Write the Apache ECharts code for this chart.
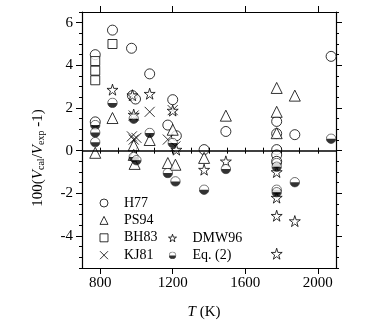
<!DOCTYPE html>
<html>
<head>
<meta charset="utf-8">
<script src="https://cdn.jsdelivr.net/npm/echarts@6/dist/echarts.min.js"></script>
<style>
  html, body { margin: 0; padding: 0; background: #fff; }
  #chart { width: 379px; height: 327px; }
</style>
</head>
<body>
<div id="chart"></div>
<script>
// [T (K), 100(Vcal/Vexp - 1)]
const h77 = [
  [773, 4.5], [868, 5.65], [973, 4.8], [978, 2.58], [995, 2.42], [1073, 3.6],
  [1200, 2.39], [1173, 1.2], [1220, 0.7], [1373, 0.05], [1493, 0.9],
  [1773, 1.37], [1773, 0.8], [1773, 0.05], [1773, -0.2], [1773, -0.5],
  [1873, 0.75], [2073, 4.42], [773, 1.35]
]
const ps94 = [
  [773, -0.1], [868, 1.53], [985, 0.25], [985, -0.2], [990, -0.62], [1073, 0.5],
  [1200, 0.98], [1173, -0.58], [1215, -0.66], [1373, -0.34], [1493, 1.64],
  [1773, 2.94], [1773, 1.82], [1773, 0.82], [1873, 2.58]
]
const bh83 = [[773, 4.2], [773, 3.75], [773, 3.3], [868, 5.0]]
const kj81 = [
  [975, 0.67], [985, 0.52], [1000, 0.6], [1073, 1.82], [1173, 0.52], [1215, 0.2],
  [985, 1.65], [1200, 1.9]
]
const dmw96 = [
  [868, 2.86], [978, 2.6], [985, 1.69], [1073, 2.67], [1200, 1.88], [1220, 0.05],
  [1373, -0.89], [1493, -0.5], [1773, -1.0], [1773, -2.2], [1773, -3.05],
  [1773, -4.83], [1873, -3.3]
]
const eq2 = [
  [773, 1.2], [773, 0.85], [773, 0.4], [868, 2.24], [985, 1.5], [985, -0.3],
  [1000, -0.45], [1073, 0.83], [1200, 0.36], [1173, -1.05], [1215, -1.44],
  [1373, -1.83], [1493, -0.86], [1773, -0.58], [1773, -0.75], [1773, -1.83],
  [1773, -1.95], [1873, -1.48], [2073, 0.56]
]
const xMajor = [800, 1200, 1600, 2000]
const yMajor = [-4, -2, 0, 2, 4, 6]

const font = 'Liberation Serif'
const halfSvg = "<svg xmlns='http://www.w3.org/2000/svg' width='20' height='20' viewBox='0 0 20 20'>" +
  "<circle cx='10' cy='10' r='8.6' fill='white'/>" +
  "<path d='M1.4,10 A8.6,8.6 0 0 0 18.6,10 Z' fill='black'/>" +
  "<circle cx='10' cy='10' r='8.6' fill='none' stroke='black' stroke-width='1.3'/></svg>"
const halfSymbol = 'image://data:image/svg+xml;charset=utf-8,' + encodeURIComponent(halfSvg)
const starPath = 'path://M50,0 L61,35 L98,35 L68,57 L79,91 L50,70 L21,91 L32,57 L2,35 L39,35 Z'
const crossPath = 'path://M0,0 L10,10 M10,0 L0,10'

const open = { color: '#fff', borderColor: '#000', borderWidth: 1 }
const crossStyle = { color: 'none', borderColor: '#000', borderWidth: 1 }
const gridBox = { left: 82, right: 43, top: 12, bottom: 59 }

function scatter(name, data, symbol, size, style) {
  return {
    name, type: 'scatter', data, symbol, symbolSize: size,
    xAxisIndex: 0, yAxisIndex: 0,
    itemStyle: style,
    emphasis: { disabled: true }
  }
}

// grid 0: minor ticks (and the data); grid 1: frame, major ticks, labels
function minorX(pos) {
  return {
    type: 'value', gridIndex: 0, position: pos, min: 700, max: 2100, interval: 100,
    axisLine: { show: false },
    axisTick: { show: true, inside: false, length: 3, lineStyle: { color: '#000' } },
    axisLabel: { show: false }, splitLine: { show: false }
  }
}
function minorY(pos) {
  return {
    type: 'value', gridIndex: 0, position: pos, min: -5.5, max: 6.5, interval: 0.5,
    axisLine: { show: false },
    axisTick: { show: true, inside: false, length: 3, lineStyle: { color: '#000' } },
    axisLabel: { show: false }, splitLine: { show: false }
  }
}
function majorX(pos, showLabel) {
  return {
    type: 'value', gridIndex: 1, position: pos, min: 700, max: 2100,
    axisLine: { show: true, onZero: false, lineStyle: { color: '#000', width: 1.2 } },
    axisTick: { show: true, inside: false, length: 6, customValues: xMajor, lineStyle: { color: '#000' } },
    axisLabel: showLabel
      ? { show: true, customValues: xMajor, margin: 8, color: '#000', fontFamily: font, fontSize: 15,
          formatter: (v) => String(v) }
      : { show: false },
    splitLine: { show: false }
  }
}
function majorY(pos, showLabel) {
  return {
    type: 'value', gridIndex: 1, position: pos, min: -5.5, max: 6.5,
    axisLine: { show: true, onZero: false, lineStyle: { color: '#000', width: 1.2 } },
    axisTick: { show: true, inside: false, length: 6, customValues: yMajor, lineStyle: { color: '#000' } },
    axisLabel: showLabel
      ? { show: true, customValues: yMajor, margin: 9, color: '#000', fontFamily: font, fontSize: 15 }
      : { show: false },
    splitLine: { show: false }
  }
}

const xAxes = [minorX('bottom'), minorX('top'), majorX('bottom', true), majorX('top', false)]
Object.assign(xAxes[2], {
  name: '{i|T} (K)',
  nameLocation: 'middle',
  nameGap: 37,
  nameTextStyle: {
    color: '#000', fontFamily: font, fontSize: 15, padding: [0, 10, 0, 0],
    rich: { i: { fontStyle: 'italic', fontFamily: font, fontSize: 15, color: '#000' } }
  }
})

const yAxes = [minorY('left'), minorY('right'), majorY('left', true), majorY('right', false)]
Object.assign(yAxes[2], {
  name: '100({i|V}{s|cal}/{i|V}{s|exp} -1)',
  nameLocation: 'middle',
  nameGap: 36,
  nameTextStyle: {
    color: '#000', fontFamily: font, fontSize: 15, padding: [0, 36, 0, 0],
    rich: {
      i: { fontStyle: 'italic', fontFamily: font, fontSize: 15, color: '#000' },
      s: { fontFamily: font, fontSize: 10, color: '#000', verticalAlign: 'bottom', padding: [6, 0, 0, 0] }
    }
  }
})

const legendText = { color: '#000', fontFamily: font, fontSize: 14, padding: [0, 0, 0, 11] }
const legendBase = {
  orient: 'vertical', padding: 0,
  itemWidth: 8, itemHeight: 8, itemGap: 3.4,
  textStyle: legendText, selectedMode: false
}

const option = {
  animation: false,
  backgroundColor: '#fff',
  grid: [Object.assign({}, gridBox), Object.assign({}, gridBox)],
  xAxis: xAxes,
  yAxis: yAxes,
  legend: [
    Object.assign({}, legendBase, {
      left: 97.5, top: 196,
      data: [
        { name: 'H77', itemStyle: open },
        { name: 'PS94', itemStyle: open },
        { name: 'BH83', itemStyle: open },
        { name: 'KJ81', itemStyle: crossStyle }
      ]
    }),
    Object.assign({}, legendBase, {
      left: 168, top: 231,
      data: [
        { name: 'DMW96', itemStyle: open },
        { name: 'Eq. (2)' }
      ]
    })
  ],
  series: [
    Object.assign(scatter('H77', h77, 'circle', 10, open), {
      markLine: {
        silent: true, symbol: 'none', label: { show: false },
        lineStyle: { color: '#000', width: 1.5, type: 'solid' },
        data: [{ yAxis: 0 }]
      }
    }),
    scatter('PS94', ps94, 'triangle', 11, open),
    scatter('BH83', bh83, 'rect', 9, open),
    scatter('KJ81', kj81, crossPath, 10, crossStyle),
    scatter('DMW96', dmw96, starPath, 11, open),
    scatter('Eq. (2)', eq2, halfSymbol, 11, {})
  ]
}

const chart = echarts.init(document.getElementById('chart'))
chart.setOption(option)
</script>
</body>
</html>
